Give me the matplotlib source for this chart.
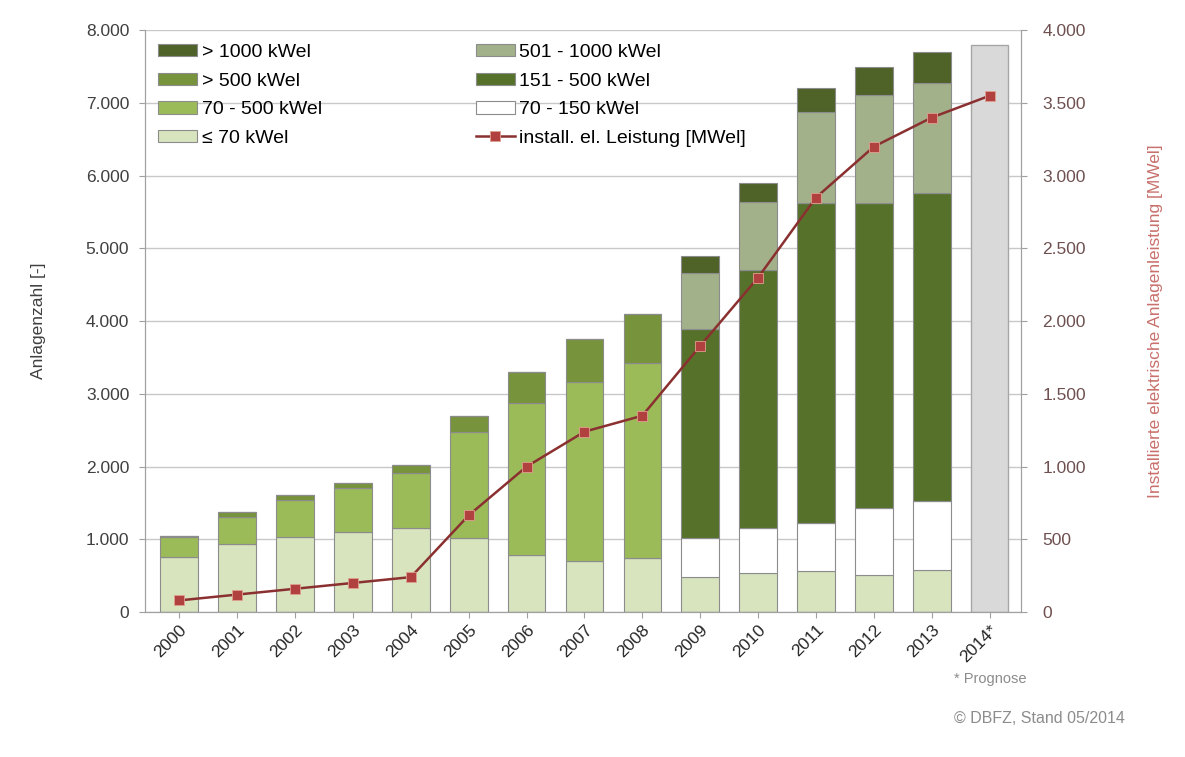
import matplotlib
matplotlib.use("Agg")
import matplotlib.pyplot as plt
from matplotlib.ticker import FuncFormatter
import numpy as np

plt.rcParams['font.family'] = ['Liberation Sans', 'DejaVu Sans']

years = ['2000', '2001', '2002', '2003', '2004', '2005', '2006', '2007',
         '2008', '2009', '2010', '2011', '2012', '2013', '2014*']

# Anlagenzahl je Leistungsklasse
le70 = [760, 940, 1030, 1100, 1150, 1020, 780, 700, 740, 480, 530, 560, 510, 580, 0]
k70_150 = [0, 0, 0, 0, 0, 0, 0, 0, 0, 540, 620, 670, 920, 950, 0]
k70_500 = [270, 370, 510, 600, 765, 1460, 2100, 2470, 2680, 0, 0, 0, 0, 0, 0]
k151_500 = [0, 0, 0, 0, 0, 0, 0, 0, 0, 2870, 3560, 4390, 4200, 4230, 0]
gt500 = [20, 60, 70, 80, 105, 210, 420, 590, 680, 0, 0, 0, 0, 0, 0]
k501_1000 = [0, 0, 0, 0, 0, 0, 0, 0, 0, 770, 930, 1250, 1480, 1520, 0]
gt1000 = [0, 0, 0, 0, 0, 0, 0, 0, 0, 240, 260, 330, 390, 420, 0]
prognose = [0, 0, 0, 0, 0, 0, 0, 0, 0, 0, 0, 0, 0, 0, 7800]

# installierte elektrische Leistung [MWel]
leistung = [80, 120, 160, 200, 240, 665, 1000, 1240, 1350, 1830, 2300, 2850, 3200, 3400, 3550]

x = np.arange(len(years))
w = 0.65
edge = '#8c8c8c'

fig = plt.figure(figsize=(11.85, 7.57), dpi=100)
ax = fig.add_axes([0.122, 0.1915, 0.74, 0.7685])

series = [
    (le70, '#d7e4bd', '≤ 70 kWel'),
    (k70_150, '#ffffff', '70 - 150 kWel'),
    (k70_500, '#9bbb59', '70 - 500 kWel'),
    (k151_500, '#56722a', '151 - 500 kWel'),
    (gt500, '#77933c', '> 500 kWel'),
    (k501_1000, '#a3b18a', '501 - 1000 kWel'),
    (gt1000, '#4f6228', '> 1000 kWel'),
]
bottom = np.zeros(len(years))
handles = {}
for vals, col, lab in series:
    vals = np.array(vals, dtype=float)
    b = ax.bar(x, vals, w, bottom=bottom, color=col, edgecolor=edge, linewidth=0.8, label=lab, zorder=2)
    handles[lab] = b
    bottom += vals
ax.bar(x, prognose, w, color='#d9d9d9', edgecolor='#a6a6a6', linewidth=1.0, zorder=2)

ax.set_xlim(-0.6, len(years) - 0.45)
ax.set_ylim(0, 8000)
ax.set_yticks(range(0, 8001, 1000))
fmt = FuncFormatter(lambda v, p: f'{int(v):,}'.replace(',', '.'))
ax.yaxis.set_major_formatter(fmt)
ax.grid(axis='y', color='#c8c8c8', linewidth=1.0, zorder=0)
ax.set_axisbelow(True)
ax.set_xticks(x)
ax.set_xticklabels(years, rotation=45, ha='right', rotation_mode='anchor', fontsize=12.5, color='#262626')
ax.tick_params(axis='y', labelsize=12.5, colors='#404040', length=4, color='#a0a0a0', pad=7)
ax.tick_params(axis='x', length=4, color='#a0a0a0')
for s in ['top']:
    ax.spines[s].set_visible(False)
for s in ['left', 'right', 'bottom']:
    ax.spines[s].set_color('#a0a0a0')
ax.set_ylabel('Anlagenzahl [-]', fontsize=12.5, color='#404040', labelpad=29)

ax2 = ax.twinx()
ax2.set_ylim(0, 4000)
ax2.set_yticks(range(0, 4001, 500))
ax2.yaxis.set_major_formatter(fmt)
line, = ax2.plot(x, leistung, color='#8b3030', linewidth=1.8, marker='s', markersize=6.5,
                 markerfacecolor='#b0413e', markeredgecolor='#e0a090', markeredgewidth=0.6,
                 label='install. el. Leistung [MWel]', zorder=5)
ax2.tick_params(axis='y', labelsize=12.5, colors='#6e5050', length=4, color='#a0a0a0', pad=11)
for s in ['top']:
    ax2.spines[s].set_visible(False)
for s in ['left', 'right', 'bottom']:
    ax2.spines[s].set_color('#a0a0a0')
ax2.set_ylabel('Installierte elektrische Anlagenleistung [MWel]', fontsize=12.5,
               color='#c8706c', labelpad=45)

order = ['> 1000 kWel', '> 500 kWel', '70 - 500 kWel', '≤ 70 kWel',
         '501 - 1000 kWel', '151 - 500 kWel', '70 - 150 kWel']
hs = [handles[o] for o in order] + [line]
labs = order + ['install. el. Leistung [MWel]']
ax2.legend(hs, labs, ncol=2, loc='upper left', bbox_to_anchor=(0.0, 1.0), frameon=False,
           fontsize=14, handlelength=2.0, handleheight=0.6, handletextpad=0.25,
           columnspacing=7.9, labelspacing=0.6, borderaxespad=0.3)

fig.text(0.805, 0.098, '* Prognose', fontsize=10.5, color='#8c8c8c')
fig.text(0.805, 0.045, '© DBFZ, Stand 05/2014', fontsize=11.5, color='#8c8c8c')

fig.savefig('out.png', dpi=100)
